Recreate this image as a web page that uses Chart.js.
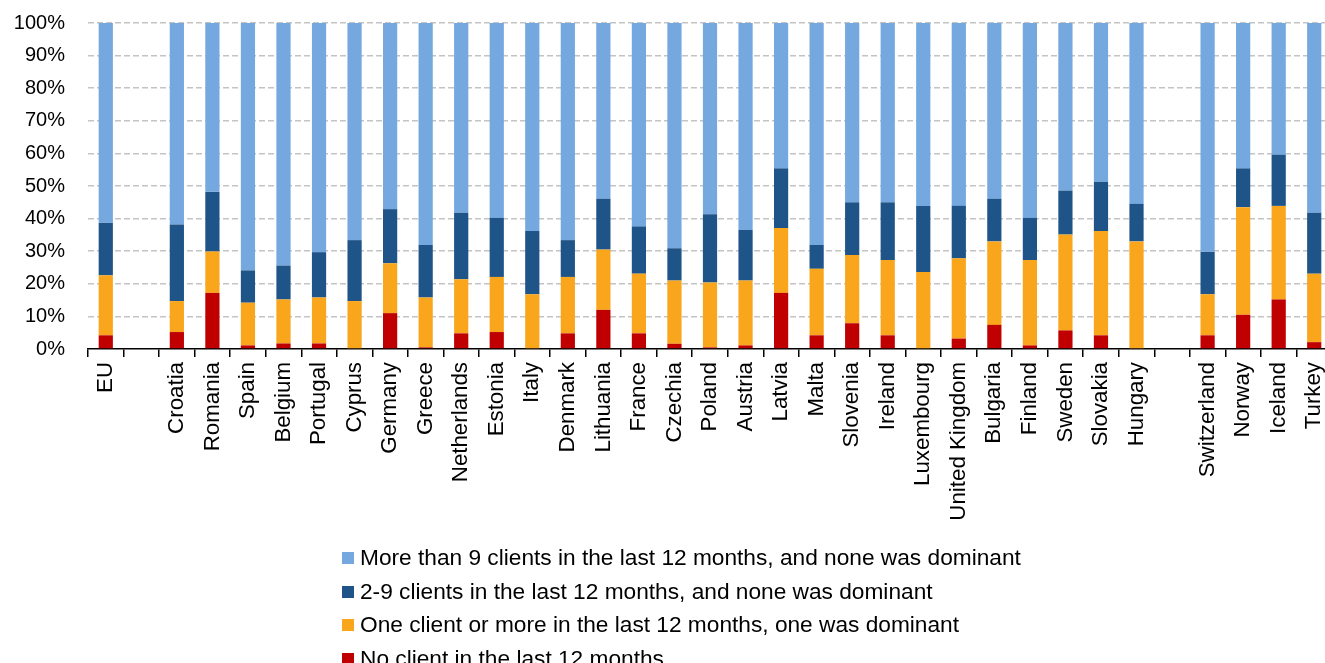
<!DOCTYPE html>
<html>
<head>
<meta charset="utf-8">
<script src="https://cdn.jsdelivr.net/npm/chart.js@4/dist/chart.umd.min.js"></script>
<style>
  html, body { margin: 0; padding: 0; background: #fff; overflow: hidden; }
  #wrap { position: relative; width: 1325px; height: 663px; overflow: hidden; }
  #chart { position: absolute; left: 0; top: 0; }
  #legend { position: absolute; left: 342px; top: 541px; font-family: "Liberation Sans", Arial, sans-serif; font-size: 22.7px; color: #000; }
  .item { position: relative; height: 33.5px; line-height: 33.5px; white-space: nowrap; padding-left: 18px; }
  .item .sw { position: absolute; left: 0; top: 11px; width: 12px; height: 12px; }
</style>
</head>
<body>
<div id="wrap">
  <canvas id="chart" width="1332" height="663"></canvas>
  <div id="legend"></div>
</div>
<script>
// Countries (blank entries separate EU total, member states and other countries)
const countries = ['EU', '', 'Croatia', 'Romania', 'Spain', 'Belgium', 'Portugal', 'Cyprus', 'Germany', 'Greece',
  'Netherlands', 'Estonia', 'Italy', 'Denmark', 'Lithuania', 'France', 'Czechia', 'Poland', 'Austria', 'Latvia',
  'Malta', 'Slovenia', 'Ireland', 'Luxembourg', 'United Kingdom', 'Bulgaria', 'Finland', 'Sweden', 'Slovakia',
  'Hungary', '', 'Switzerland', 'Norway', 'Iceland', 'Turkey'];

// Shares of self-employed (%) by client situation
const noClient = [4.2, null, 5.2, 17.2, 1.1, 1.7, 1.7, 0, 11.0, 0.5,
  4.8, 5.2, 0, 4.8, 12.0, 4.8, 1.6, 0.5, 1.1, 17.2,
  4.2, 7.9, 4.2, 0, 3.2, 7.4, 1.1, 5.7, 4.2,
  0, null, 4.2, 10.5, 15.2, 2.1];
const oneDominant = [18.4, null, 9.5, 12.7, 13.1, 13.5, 14.1, 14.7, 15.3, 15.3,
  16.6, 16.9, 16.8, 17.3, 18.5, 18.3, 19.4, 19.9, 19.9, 19.9,
  20.4, 20.9, 23.1, 23.6, 24.6, 25.6, 26.2, 29.4, 32.0,
  33.0, null, 12.6, 33.0, 28.7, 21.0];
const twoToNine = [16.1, null, 23.5, 18.3, 9.9, 10.4, 13.9, 18.7, 16.6, 16.1,
  20.4, 18.1, 19.4, 11.3, 15.6, 14.5, 9.9, 20.9, 15.5, 18.3,
  7.3, 16.2, 17.7, 20.3, 16.1, 13.1, 12.9, 13.5, 15.1,
  11.5, null, 13.0, 11.9, 15.7, 18.7];
const moreThanNine = [61.3, null, 61.8, 51.8, 75.9, 74.4, 70.3, 66.6, 57.1, 68.1,
  58.2, 59.8, 63.8, 66.6, 53.9, 62.4, 69.1, 58.7, 63.5, 44.6,
  68.1, 55.0, 55.0, 56.1, 56.1, 53.9, 59.8, 51.4, 48.7,
  55.5, null, 70.2, 44.6, 40.4, 58.2];

const yTicks = [0, 10, 20, 30, 40, 50, 60, 70, 80, 90, 100];

const seriesNames = [
  'No client in the last 12 months',
  'One client or more in the last 12 months, one was dominant',
  '2-9 clients in the last 12 months, and none was dominant',
  'More than 9 clients in the last 12 months, and none was dominant'
];
const seriesColors = ['#C00000', '#F9A61C', '#1F5489', '#75A8DE'];
const seriesData = [noClient, oneDominant, twoToNine, moreThanNine];

const FONT = '"Liberation Sans", Arial, sans-serif';

const datasets = seriesData.map((d, i) => ({
  label: seriesNames[i],
  data: d,
  backgroundColor: seriesColors[i],
  borderWidth: 0,
  barPercentage: 0.4,
  categoryPercentage: 1.0
}));

new Chart(document.getElementById('chart'), {
  type: 'bar',
  data: { labels: countries, datasets },
  options: {
    responsive: false,
    animation: false,
    devicePixelRatio: 1,
    layout: { padding: { left: 0, top: 23, right: 0, bottom: 0 } },
    plugins: { legend: { display: false }, tooltip: { enabled: false } },
    scales: {
      x: {
        stacked: true,
        offset: true,
        grid: {
          offset: true,
          drawOnChartArea: false,
          drawTicks: true,
          tickLength: 8,
          color: '#000',
          lineWidth: 1.5
        },
        border: { display: true, color: '#000', width: 1.5 },
        ticks: {
          autoSkip: false,
          maxRotation: 90,
          minRotation: 90,
          padding: 5,
          color: '#000',
          font: { family: FONT, size: 22.3 }
        },
        afterFit: (s) => { s.height = 314; s.paddingLeft = 0; s.paddingRight = 0; }
      },
      y: {
        stacked: true,
        min: 0,
        max: 100,
        afterBuildTicks: (s) => { s.ticks = yTicks.map(v => ({ value: v })); },
        grid: {
          drawTicks: false,
          color: (ctx) => (ctx.tick && ctx.tick.value === 0) ? 'rgba(0,0,0,0)' : '#c4c4c4',
          lineWidth: 1.5
        },
        border: { display: false, dash: [6, 3] },
        ticks: {
          padding: 23,
          color: '#000',
          font: { family: FONT, size: 20 },
          callback: (v) => v + '%'
        },
        afterFit: (s) => { s.width = 88; s.paddingTop = 0; s.paddingBottom = 0; }
      }
    }
  }
});

// Legend, listed from the top segment of the stack down
const legend = document.getElementById('legend');
for (let i = seriesNames.length - 1; i >= 0; i--) {
  const row = document.createElement('div');
  row.className = 'item';
  const sw = document.createElement('span');
  sw.className = 'sw';
  sw.style.background = seriesColors[i];
  row.appendChild(sw);
  row.appendChild(document.createTextNode(seriesNames[i]));
  legend.appendChild(row);
}
</script>
</body>
</html>
